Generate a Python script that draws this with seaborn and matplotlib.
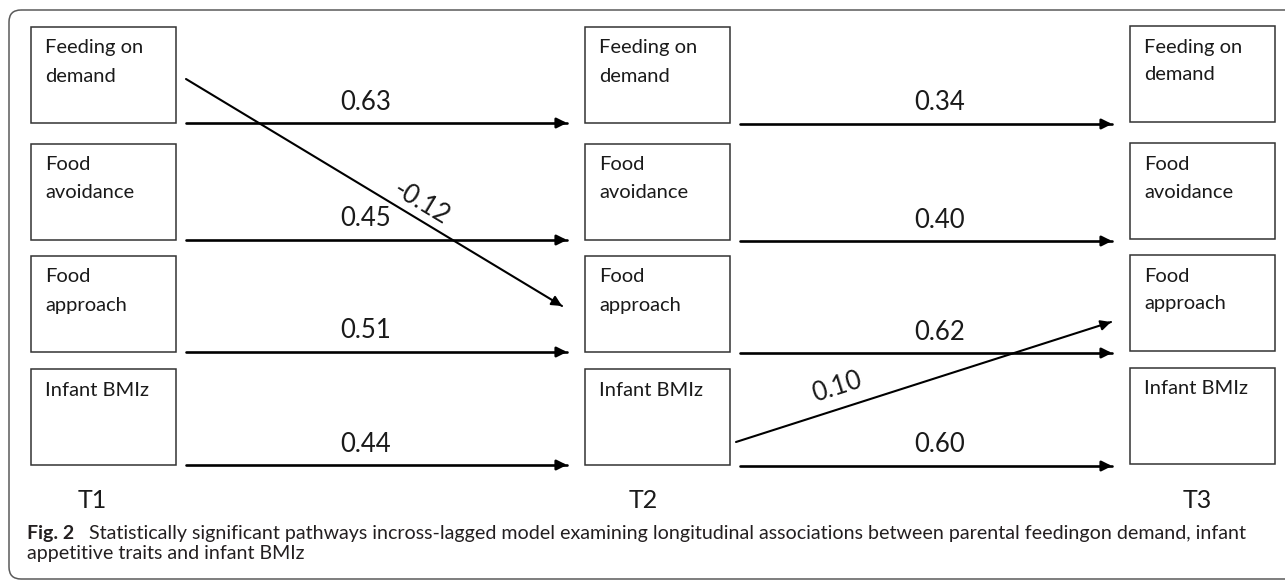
import numpy as np
import pandas as pd
import matplotlib.pyplot as plt
from matplotlib.patches import Rectangle, FancyBboxPatch
import seaborn as sns

# data
waves = ["T1", "T2", "T3"]
variables = ["Feeding on\ndemand", "Food\navoidance", "Food\napproach", "Infant BMIz"]
stability_t1_t2 = [0.63, 0.45, 0.51, 0.44]
stability_t2_t3 = [0.34, 0.40, 0.62, 0.60]
# cross-lagged paths: (from wave, from variable, to variable, coefficient)
cross_paths = [(0, 0, 2, -0.12), (1, 3, 2, 0.10)]
caption_bold = "Fig. 2"
caption_lines = ["Statistically significant pathways incross-lagged model examining longitudinal associations between parental feedingon demand, infant",
                 "appetitive traits and infant BMIz"]

# layout (pixels)
col_x = [31, 585, 1130]
row_top = [27, 144, 256, 369]
box_w, box_h = 145, 96
wave_label_x = [92, 643, 1197]
label_x = [366, 940]
cross_anchor = [((10, 52), (-23, 50)), ((6, 73), (-19, 66))]
cross_label = [(0.625, 18), (0.27, 22)]

sns.set_theme(style="white")
plt.rcParams['font.family'] = ['Lato', 'DejaVu Sans']

fig = plt.figure(figsize=(12.85, 5.8), dpi=100)
ax = fig.add_axes([0, 0, 1, 1])

# outer frame
ax.add_patch(FancyBboxPatch((9, 10), 1300, 569, boxstyle="round,pad=0,rounding_size=12",
                            fill=False, ec='#5a5a5a', lw=1.1))

# boxes
for w, x0 in enumerate(col_x):
    for r, name in enumerate(variables):
        y0 = row_top[r] - (1 if w == 2 else 0)
        ax.add_patch(Rectangle((x0, y0), box_w, box_h, fill=False, ec='#333333', lw=1.1))
        for i, line in enumerate(name.split("\n")):
            ax.text(x0 + 14, y0 + 21 + i * 28, line, fontsize=14.5, color='#1a1a1a', va='center', ha='left')
    ax.text(wave_label_x[w], 501, waves[w], fontsize=18, color='#1a1a1a', ha='center', va='center')

# path segments
segs = []
labels = []
for w, coefs in enumerate([stability_t1_t2, stability_t2_t3]):
    for r, c in enumerate(coefs):
        y = row_top[r] + box_h + (1 if w == 1 else 0)
        x0 = col_x[w] + box_w + 10
        x1 = col_x[w + 1] - 18
        segs.append((x0, y, x1, y, 1.9))
        labels.append((label_x[w], y - 21, c, 0))
for k, (w, r0, r1, c) in enumerate(cross_paths):
    (sdx, sdy), (edx, edy) = cross_anchor[k]
    x0, y0 = col_x[w] + box_w + sdx, row_top[r0] + sdy
    x1, y1 = col_x[w + 1] + edx, row_top[r1] + edy
    segs.append((x0, y0, x1, y1, 1.5))
    t, off = cross_label[k]
    ang = np.degrees(np.arctan2(-(y1 - y0), x1 - x0))
    lx, ly = x0 + t * (x1 - x0), y0 + t * (y1 - y0) - off
    labels.append((lx, ly, c, ang))

df = pd.DataFrame([{"path": i, "x": s[0], "y": s[1]} for i, s in enumerate(segs)] +
                  [{"path": i, "x": s[2], "y": s[3]} for i, s in enumerate(segs)])
for i, s in enumerate(segs):
    sub = df[df.path == i]
    sns.lineplot(data=sub, x="x", y="y", ax=ax, color='black', lw=s[4], sort=False, estimator=None, legend=False)
    d = np.array([s[2] - s[0], s[3] - s[1]], dtype=float)
    d /= np.hypot(*d)
    ax.annotate("", xy=(s[2], s[3]), xytext=(s[2] - 6 * d[0], s[3] - 6 * d[1]),
                arrowprops=dict(arrowstyle="-|>,head_length=0.6,head_width=0.3", mutation_scale=10,
                                color='black', lw=s[4], shrinkA=0, shrinkB=0))
ax.set_xlim(0, 1285)
ax.set_ylim(580, 0)
ax.axis('off')

for lx, ly, c, ang in labels:
    ax.text(lx, ly, f"{c:.2f}", fontsize=18.5, color='#1a1a1a', ha='center', va='center',
            rotation=ang, rotation_mode='anchor')

# caption
ax.text(27, 533, caption_bold, fontsize=14, fontweight='bold', color='#231f20', va='center', ha='left')
ax.text(89, 533, caption_lines[0], fontsize=14.1, color='#231f20', va='center', ha='left')
ax.text(27, 554, caption_lines[1], fontsize=14.1, color='#231f20', va='center', ha='left')

fig.savefig("out.png", dpi=100)
